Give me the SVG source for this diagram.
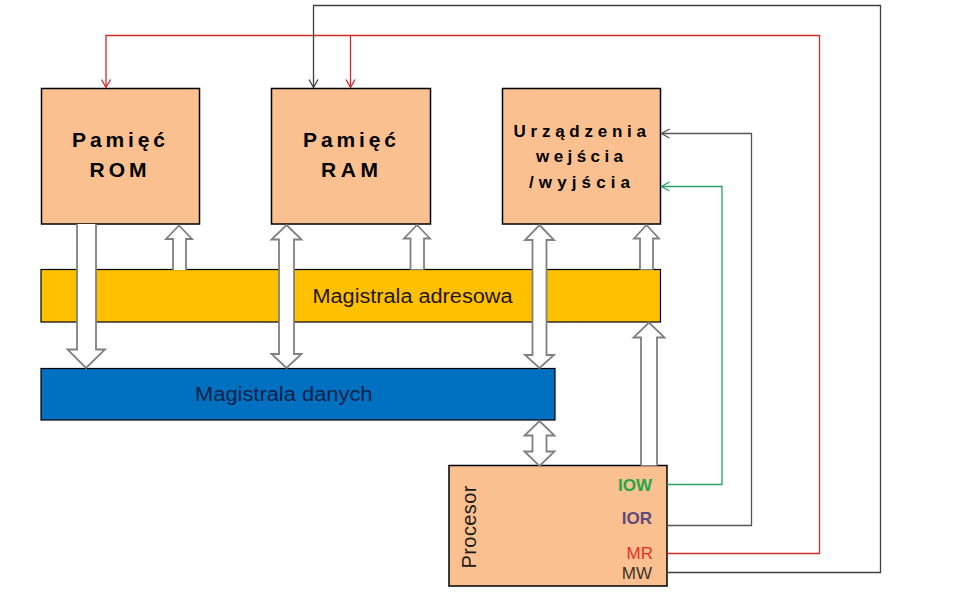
<svg xmlns="http://www.w3.org/2000/svg" width="959" height="599" viewBox="0 0 959 599">
<style>
.box{fill:#fac090;stroke:#000;stroke-width:1.5}
.blk{fill:#fff;stroke:#808080;stroke-width:1.8;stroke-linejoin:miter}
.lbl{font-family:"Liberation Sans",Arial,sans-serif;font-weight:bold;fill:#000}
.bus{font-family:"Liberation Sans",Arial,sans-serif;font-size:20px}
.con{fill:none;stroke-width:1.3}
.sig{font-family:"Liberation Sans",Arial,sans-serif;font-size:17px;text-anchor:end}
</style>
<defs>
<marker id="aR" markerUnits="userSpaceOnUse" markerWidth="12" markerHeight="12" refX="0" refY="0" viewBox="-10 -6 12 12" orient="auto"><path d="M-8,-4.5 L0,0 L-8,4.5" fill="none" stroke="#d02a2a" stroke-width="1.3"/></marker>
<marker id="aK" markerUnits="userSpaceOnUse" markerWidth="12" markerHeight="12" refX="0" refY="0" viewBox="-10 -6 12 12" orient="auto"><path d="M-8,-4.5 L0,0 L-8,4.5" fill="none" stroke="#404040" stroke-width="1.3"/></marker>
<marker id="aG" markerUnits="userSpaceOnUse" markerWidth="12" markerHeight="12" refX="0" refY="0" viewBox="-10 -6 12 12" orient="auto"><path d="M-8,-4.5 L0,0 L-8,4.5" fill="none" stroke="#2aa06a" stroke-width="1.3"/></marker>
<marker id="aI" markerUnits="userSpaceOnUse" markerWidth="12" markerHeight="12" refX="0" refY="0" viewBox="-10 -6 12 12" orient="auto"><path d="M-8,-4.5 L0,0 L-8,4.5" fill="none" stroke="#555" stroke-width="1.3"/></marker>
</defs>
<rect width="959" height="599" fill="#fff"/>

<g id="rom"><rect class="box" x="41.5" y="88.5" width="158" height="135.5"/>
<text class="lbl" font-size="21" x="72" y="147" textLength="93" lengthAdjust="spacing">Pamięć</text>
<text class="lbl" font-size="21" x="89.5" y="177" textLength="57" lengthAdjust="spacing">ROM</text></g>

<g id="ram"><rect class="box" x="271.5" y="88.5" width="159" height="135.5"/>
<text class="lbl" font-size="21" x="303" y="147" textLength="93" lengthAdjust="spacing">Pamięć</text>
<text class="lbl" font-size="21" x="321" y="177" textLength="57" lengthAdjust="spacing">RAM</text></g>

<g id="io"><rect class="box" x="502.5" y="88.5" width="158" height="135.5"/>
<text class="lbl" font-size="17" x="513.5" y="136.5" textLength="132.5" lengthAdjust="spacing">Urządzenia</text>
<text class="lbl" font-size="17" x="536" y="162" textLength="87" lengthAdjust="spacing">wejścia</text>
<text class="lbl" font-size="17" x="529" y="187.5" textLength="101" lengthAdjust="spacing">/wyjścia</text></g>

<g id="addr-bus"><rect x="41" y="269.5" width="619.5" height="52.5" fill="#ffc000" stroke="#000" stroke-width="1.2"/></g>
<g id="data-bus"><rect x="41" y="368.5" width="514" height="51.5" fill="#0070c0" stroke="#000" stroke-width="1.2"/></g>

<g id="cpu"><rect class="box" x="449" y="465.5" width="218" height="120.5"/>
<text font-family="Liberation Sans, Arial, sans-serif" font-size="20" fill="#1a1a1a" text-anchor="middle" transform="translate(475.5,527) rotate(-90)" textLength="83" lengthAdjust="spacing">Procesor</text>
<text class="sig" x="652" y="490.5" fill="#22a84a" font-weight="bold">IOW</text>
<text class="sig" x="652" y="524" fill="#604a7b" font-weight="bold">IOR</text>
<text class="sig" x="653" y="559" fill="#e8302a" font-size="18">MR</text>
<text class="sig" x="652" y="578.5" fill="#3f3328" font-size="18">MW</text></g>

<g id="block-arrows">
<path class="blk" d="M77,224 L77,349.5 L67.5,349.5 L86,368 L105,349.5 L96,349.5 L96,224"/>
<path class="blk" d="M173,270 L173,239 L166,239 L179,225.5 L192,239 L186,239 L186,270"/>
<path class="blk" d="M286.5,225 L301.5,239.5 L294,239.5 L294,354 L301.5,354 L286.5,368 L271.5,354 L279,354 L279,239.5 L271.5,239.5 Z"/>
<path class="blk" d="M410.5,269.5 L410.5,238.5 L404,238.5 L417,225 L430,238.5 L424,238.5 L424,269.5"/>
<path class="blk" d="M539.5,225 L554,240 L546.5,240 L546.5,355 L554,355 L539.5,368 L525,355 L532.5,355 L532.5,240 L525,240 Z"/>
<path class="blk" d="M640,269.5 L640,238.5 L634,238.5 L646.5,225 L659,238.5 L653,238.5 L653,269.5"/>
<path class="blk" d="M641,465.5 L641,337.5 L633.5,337.5 L649,322.5 L664.5,337.5 L657,337.5 L657,465.5"/>
<path class="blk" d="M539.5,421 L554.5,435.5 L546.5,435.5 L546.5,451.5 L554.5,451.5 L539.5,466 L524.5,451.5 L532.5,451.5 L532.5,435.5 L524.5,435.5 Z"/>
</g>

<g id="bus-labels">
<text class="bus" x="312.5" y="303.3" fill="#1f1608" textLength="200" lengthAdjust="spacingAndGlyphs">Magistrala adresowa</text>
<text class="bus" x="195" y="400.7" fill="#0b1f48" textLength="177.5" lengthAdjust="spacingAndGlyphs">Magistrala danych</text>
</g>

<g id="connectors">
<path class="con" stroke="#d02a2a" d="M667,553.5 H819.5 V35.5 H106 V87.5" marker-end="url(#aR)"/>
<path class="con" stroke="#d02a2a" d="M350.5,35.5 V87.5" marker-end="url(#aR)"/>
<path class="con" stroke="#404040" d="M667,572.5 H880.5 V5.5 H313.5 V87.5" marker-end="url(#aK)"/>
<path class="con" stroke="#555" d="M667,525.5 H751.5 V133.5 H661.5" marker-end="url(#aI)"/>
<path class="con" stroke="#2aa06a" d="M667,484.5 H722 V186.5 H661.5" marker-end="url(#aG)"/>
</g>
</svg>
